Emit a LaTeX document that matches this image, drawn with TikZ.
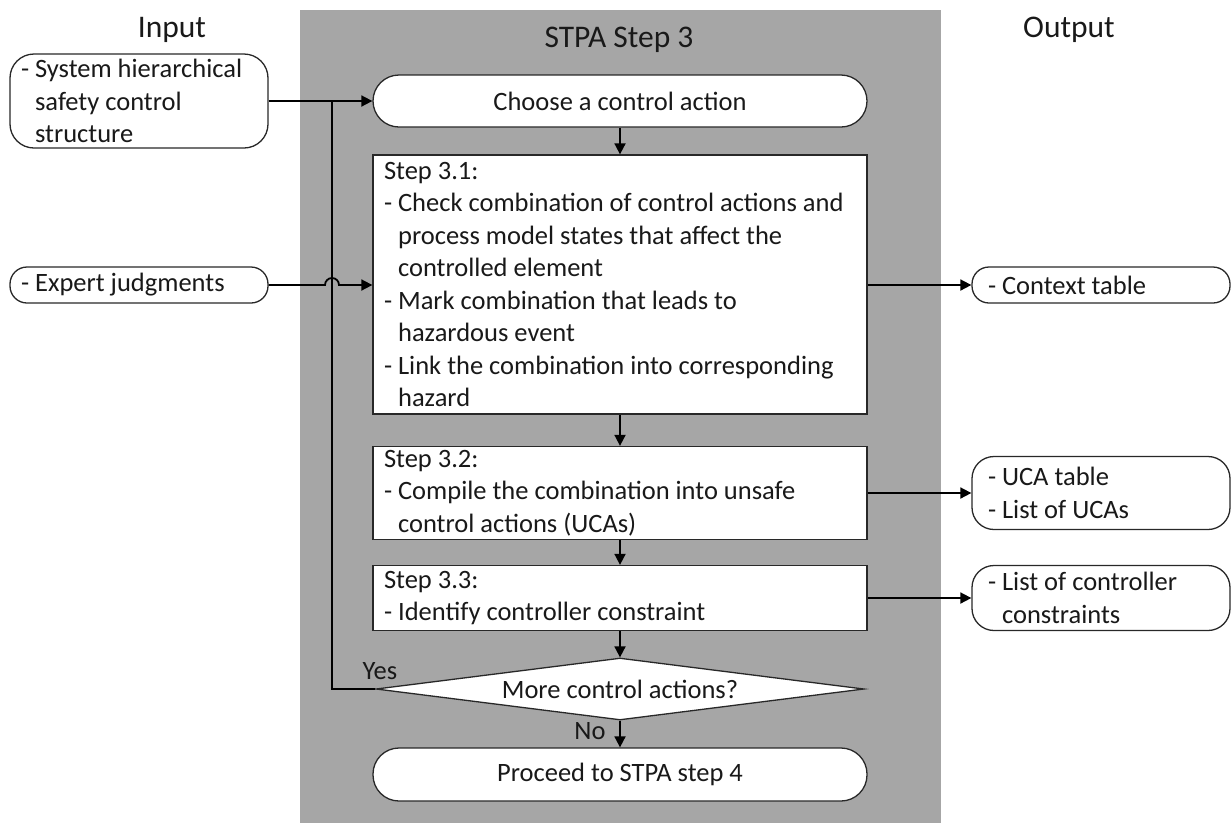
\documentclass[tikz,border=0pt]{standalone}
\usepackage{fontspec}
\setmainfont{Carlito}
\usetikzlibrary{arrows.meta,shapes.geometric,calc}
\definecolor{panelgray}{RGB}{166,166,166}
\definecolor{edge}{RGB}{40,40,40}
\begin{document}
\begin{tikzpicture}[x=1pt,y=1pt,
  every node/.style={font=\fontsize{26.5}{32.5}\selectfont, text=black!90},
  title/.style={font=\fontsize{31.5}{38}\selectfont, anchor=base},
  box/.style={draw=edge, line width=1.3pt, fill=white, align=flush left, inner xsep=11pt, inner ysep=0pt},
  stepbox/.style={box, text width=472pt},
  inbox/.style={box, rounded corners=#1, text width=236pt},
  outbox/.style={box, rounded corners=#1, inner xsep=16pt, text width=226pt},
  pill/.style={box, rounded corners=26pt, align=center, minimum width=494pt, text width=, minimum height=52pt},
  decision/.style={diamond, draw=edge, line width=1.3pt, fill=white, aspect=7.9,
    minimum width=488pt, minimum height=62pt, inner sep=0pt},
  arr/.style={line width=1.8pt, -{Triangle[length=11pt,width=11pt]}},
  link/.style={line width=1.8pt}
]
\useasboundingbox (0,0) rectangle (1231,-823);

% grey band of the STPA step
\fill[panelgray] (300,-10) rectangle (941,-823);

% column headings
\node[title] (tin) at (172,-37) {Input};
\node[title] (tstpa) at (619,-47) {STPA Step 3};
\node[title] (tout) at (1069,-37) {Output};

% inputs
\node[inbox=24pt, minimum height=94pt] (in1) at (139,-101)
  {- System hierarchical\\\hphantom{- }safety control\\\hphantom{- }structure};
\node[inbox=17pt, minimum height=36pt] (in2) at (139,-285) {- Expert judgments};

% main flow
\node[pill] (choose) at (620,-101) {Choose a control action};
\node[stepbox, minimum height=259pt] (s31) at (620,-284.5)
  {Step 3.1:\\
   - Check combination of control actions and\\
   \hphantom{- }process model states that affect the\\
   \hphantom{- }controlled element\\
   - Mark combination that leads to\\
   \hphantom{- }hazardous event\\
   - Link the combination into corresponding\\
   \hphantom{- }hazard};
\node[stepbox, minimum height=93pt] (s32) at (620,-493)
  {Step 3.2:\\
   - Compile the combination into unsafe\\
   \hphantom{- }control actions (UCAs)};
\node[stepbox, minimum height=65pt] (s33) at (620,-598)
  {Step 3.3:\\
   - Identify controller constraint};
\node[decision] (dia) at (620,-689) {More control actions?};
\node[pill, minimum height=53pt] (proceed) at (620,-774.5) {Proceed to STPA step 4};

% outputs
\node[outbox=17pt, minimum height=36pt] (ctx) at (1101,-285) {- Context table};
\node[outbox=22pt, minimum height=73pt] (uca) at (1101,-493) {- UCA table\\- List of UCAs};
\node[outbox=22pt, minimum height=65pt] (lcc) at (1101,-598)
  {- List of controller\\\hphantom{- }constraints};

% branch labels
\node[anchor=base] (yes) at (380,-679) {Yes};
\node[anchor=base] (no) at (590,-739) {No};

% loop-back line position
\coordinate (fb) at (332,0);

% connectors
\draw[arr] (in1.east) -- (choose.west);
\draw[link] (dia.west) -- (fb |- dia.west) -- (fb |- in1.east);
\draw[arr] (in2.east) -- ($(fb |- in2.east)+(-7pt,0)$)
  arc[start angle=180, end angle=0, radius=7pt] -- (s31.west |- in2.east);

\draw[arr] (choose.south) -- (s31.north);
\draw[arr] (s31.south) -- (s32.north);
\draw[arr] (s32.south) -- (s33.north);
\draw[arr] (s33.south) -- (dia.north);
\draw[arr] (dia.south) -- (proceed.north);

\draw[arr] (s31.east |- ctx.west) -- (ctx.west);
\draw[arr] (s32.east |- uca.west) -- (uca.west);
\draw[arr] (s33.east |- lcc.west) -- (lcc.west);
\end{tikzpicture}
\end{document}
